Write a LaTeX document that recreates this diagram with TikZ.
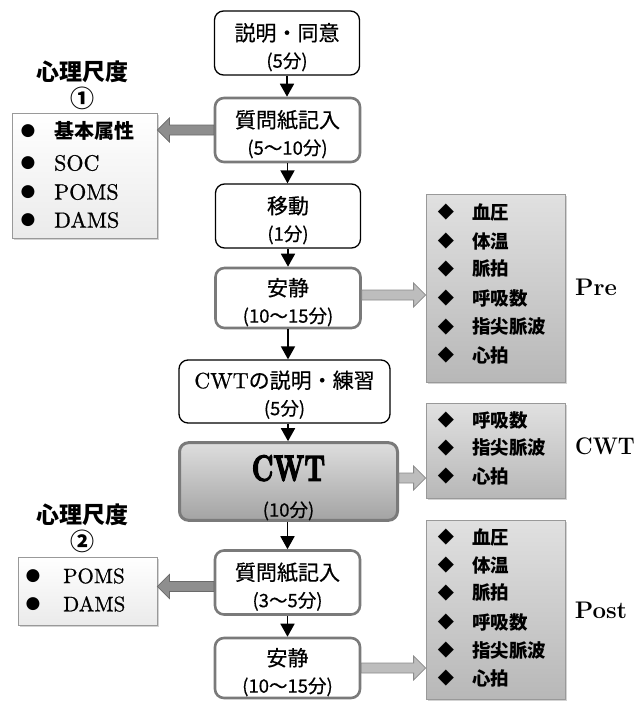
\documentclass[tikz,border=0pt]{standalone}
\usepackage{fontspec}
\newfontfamily\jp{Noto Sans CJK JP}
\newfontfamily\jpm{Noto Sans CJK JP}[FakeBold=0.5]
\newfontfamily\dv{DejaVu Sans}
\newfontfamily\heavy{lmroman10-bold.otf}[FakeBold=4]
\newfontfamily\lmfb{lmroman10-regular.otf}[FakeBold=0.7]
\usetikzlibrary{shadows,arrows.meta,calc}
\definecolor{gbord}{HTML}{7A7A7A}
\definecolor{larrfill}{HTML}{8E8E8E}
\definecolor{larrdraw}{HTML}{6A6A6A}
\definecolor{rarrfill}{HTML}{BDBDBD}
\definecolor{rarrdraw}{HTML}{8A8A8A}
\tikzset{
  box/.style={draw=black, line width=1.3pt, rounded corners=9pt, fill=white,
    minimum width=145pt, minimum height=64pt, inner sep=0pt, align=center,
    font=\jpm\fontsize{21}{27}\selectfont},
  gbox/.style={box, draw=gbord, line width=2.6pt},
  cwtbox/.style={box, draw=gbord, line width=3pt, top color=black!13, bottom color=black!36,
    minimum width=218pt, minimum height=72pt, font=\jpm\fontsize{18.5}{36}\selectfont},
  lbox/.style={draw=black!40, line width=0.8pt, top color=white, bottom color=black!8,
    drop shadow={shadow xshift=2pt, shadow yshift=-2pt, opacity=0.35}, inner sep=0pt},
  rbox/.style={draw=black!40, line width=0.8pt, top color=black!12, bottom color=black!28,
    drop shadow={shadow xshift=2pt, shadow yshift=-2pt, opacity=0.35}, inner sep=0pt},
  varr/.style={line width=1.8pt, -{Triangle[width=14pt,length=13pt]}},
  larr/.style={fill=larrfill, draw=larrdraw, line width=0.8pt},
  rarr/.style={fill=rarrfill, draw=rarrdraw, line width=0.8pt},
  bul/.style={inner sep=0pt, font=\dv\fontsize{17}{17}\selectfont},
  dia/.style={inner sep=0pt, font=\dv\fontsize{21}{21}\selectfont},
  jitem/.style={anchor=west, inner sep=0pt, font=\jp\bfseries\fontsize{18.5}{20}\selectfont},
  litem/.style={anchor=west, inner sep=0pt, font=\lmfb\fontsize{22}{22}\selectfont},
  tag/.style={inner sep=0pt, font=\bfseries\fontsize{24}{26}\selectfont},
}
\newcommand\sub[1]{{\fontsize{18.5}{27}\selectfont #1}}
\newcommand\up{\rule{0pt}{26pt}}
\newcommand\larrow[2]{\draw[larr] let \p1=(#1), \p2=(#2) in
  (\x1,\y1+5pt) -- (\x2+12pt,\y1+5pt) -- (\x2+12pt,\y1+12pt) -- (\x2,\y1)
  -- (\x2+12pt,\y1-12pt) -- (\x2+12pt,\y1-5pt) -- (\x1,\y1-5pt) -- cycle;}
\newcommand\rarrow[2]{\draw[rarr] let \p1=(#1), \p2=(#2) in
  (\x1,\y1+5pt) -- (\x2-12pt,\y1+5pt) -- (\x2-12pt,\y1+12pt) -- (\x2,\y1)
  -- (\x2-12pt,\y1-12pt) -- (\x2-12pt,\y1-5pt) -- (\x1,\y1-5pt) -- cycle;}
\begin{document}
\begin{tikzpicture}[x=1pt,y=-1pt]
\useasboundingbox (0,0) rectangle (636,701);

% main flow
\node[box]  (b1) at (287,43)    {\up 説明・同意\\\sub{(5分)}};
\node[gbox] (b2) at (287.5,130) {\up 質問紙記入\\\sub{(5〜10分)}};
\node[box]  (b3) at (288,216)   {\up 移動\\\sub{(1分)}};
\node[gbox, minimum height=60pt] (b4) at (288,298) {\up 安静\\\sub{(10〜15分)}};
\node[box, minimum width=211pt, minimum height=63pt] (b5) at (284.5,391.5)
  {\rule{0pt}{24pt}{\lmfb\fontsize{22}{26}\selectfont CWT}の説明・練習\\\sub{(5分)}};
\node[cwtbox] (b6) at (288.5,481.5)
  {\rule{0pt}{38pt}\scalebox{1}[1.4]{\heavy\fontsize{26}{26}\selectfont CWT}\\(10分)};
\node[gbox] (b7) at (287.5,582.5) {\up 質問紙記入\\\sub{(3〜5分)}};
\node[gbox, minimum height=60pt] (b8) at (287.5,668) {\up 安静\\\sub{(10〜15分)}};

\draw[varr] (b1.south) -- (b1.south |- b2.north);
\draw[varr] (b2.south) -- (b2.south |- b3.north);
\draw[varr] (b3.south) -- (b3.south |- b4.north);
\draw[varr] (b4.south) -- (b4.south |- b5.north);
\draw[varr] (b5.south -| b4.south) -- (b4.south |- b6.north);
\draw[varr] (b6.south -| b7.north) -- (b7.north);
\draw[varr] (b7.south) -- (b8.north);

% left group 1
\node[inner sep=0pt, font=\jp\bfseries\fontsize{23}{26}\selectfont] (t1) at (82,72) {心理尺度};
\node[inner sep=0pt, font=\jp\bfseries\fontsize{24}{26}\selectfont] (n1) at (82,98) {①};
\node[lbox, minimum width=145pt, minimum height=125pt] (L1) at (84.5,175.5) {};
\node[bul] (l1b1) at (28,131) {●};
\node[bul] (l1b2) at (28,163) {●};
\node[bul] (l1b3) at (28,192) {●};
\node[bul] (l1b4) at (28,220) {●};
\node[jitem, font=\jp\bfseries\fontsize{20}{20}\selectfont] (l1t1) at (54,131) {基本属性};
\node[litem] (l1t2) at (54,163) {SOC};
\node[litem] (l1t3) at (54,192) {POMS};
\node[litem] (l1t4) at (54,220) {DAMS};

% left group 2
\node[inner sep=0pt, font=\jp\bfseries\fontsize{23}{26}\selectfont] (t2) at (82,515) {心理尺度};
\node[inner sep=0pt, font=\jp\bfseries\fontsize{24}{26}\selectfont] (n2) at (82,541) {②};
\node[lbox, minimum width=139pt, minimum height=68pt] (L2) at (87.5,591) {};
\node[bul] (l2b1) at (33,576) {●};
\node[bul] (l2b2) at (33,604) {●};
\node[litem, font=\lmfb\fontsize{21}{22}\selectfont] (l2t1) at (63,576) {POMS};
\node[litem, font=\lmfb\fontsize{21}{22}\selectfont] (l2t2) at (63,604) {DAMS};

% right group Pre
\node[rbox, minimum width=139pt, minimum height=188pt] (R1) at (495.5,288) {};
\foreach \y/\t [count=\i] in {212/血圧,241/体温,269/脈拍,298/呼吸数,327/指尖脈波,355/心拍}{
  \node[dia] (r1d\i) at (446,\y) {◆};
  \node[jitem] (r1t\i) at (472,\y) {\t};
}
\node[tag] (pre) at (596,287) {Pre};

% right group CWT
\node[rbox, minimum width=139pt, minimum height=95pt] (R2) at (495.5,450.5) {};
\foreach \y/\t [count=\i] in {420/呼吸数,448/指尖脈波,476/心拍}{
  \node[dia] (r2d\i) at (446,\y) {◆};
  \node[jitem] (r2t\i) at (472,\y) {\t};
}
\node[tag] (cwt) at (605,446) {\scalebox{0.9}[1]{CWT}};

% right group Post
\node[rbox, minimum width=139pt, minimum height=179pt] (R3) at (495.5,609.5) {};
\foreach \y/\t [count=\i] in {537/血圧,565/体温,593/脈拍,622/呼吸数,650/指尖脈波,678/心拍}{
  \node[dia] (r3d\i) at (446,\y) {◆};
  \node[jitem] (r3t\i) at (472,\y) {\t};
}
\node[tag] (post) at (601,610) {Post};

% block arrows
\larrow{b2.west}{L1.east}
\larrow{$(b7.west)+(0,4)$}{L2.east}
\rarrow{$(b4.east)+(0,-3)$}{R1.west}
\rarrow{$(b6.east)+(0,-3.5)$}{R2.west}
\rarrow{b8.east}{R3.west}
\end{tikzpicture}
\end{document}
